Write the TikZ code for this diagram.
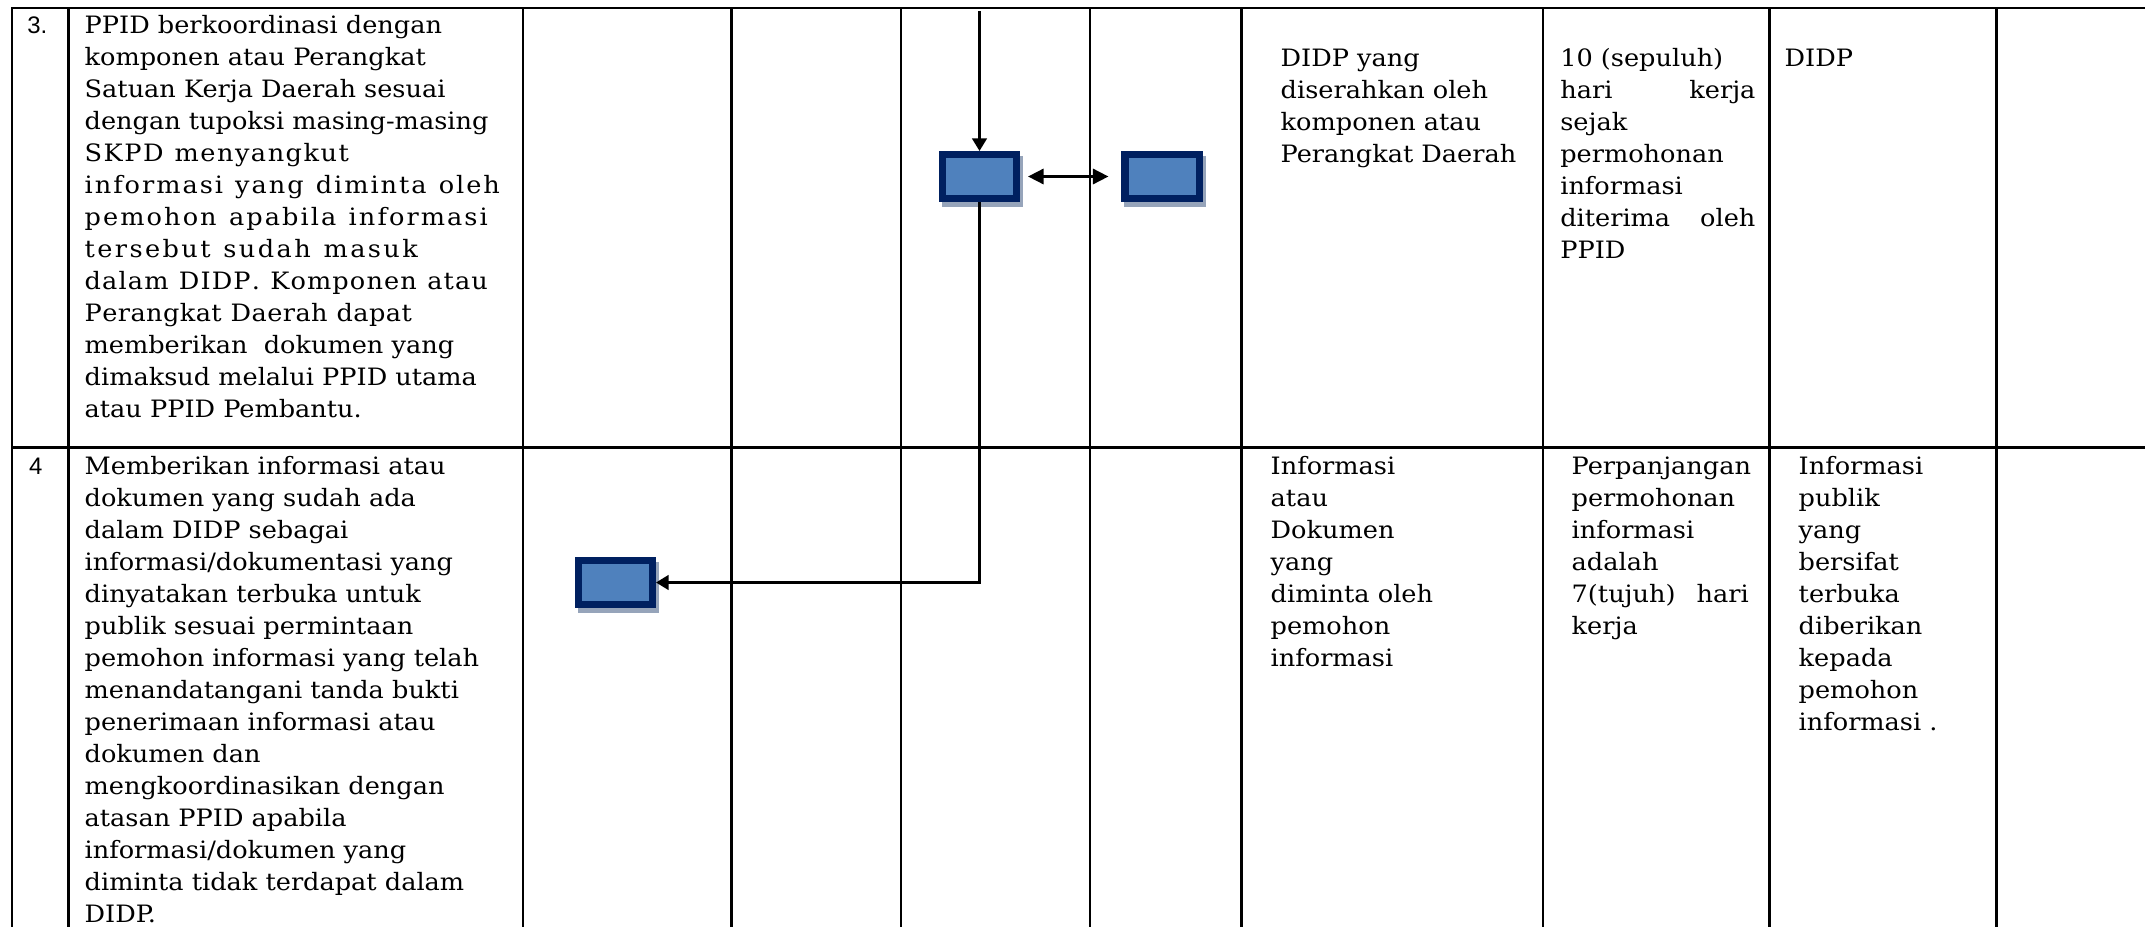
\documentclass[tikz,border=0pt]{standalone}
\usepackage{fontspec}
\setmainfont{DejaVu Serif}[FakeStretch=1.07]
\newfontfamily\numfont{Liberation Sans}
\usetikzlibrary{arrows.meta,shadows}

\definecolor{boxnavy}{RGB}{0,32,96}
\definecolor{boxblue}{RGB}{79,129,189}
\definecolor{boxshade}{RGB}{150,164,186}

\newcommand\celltext{\fontsize{6.8}{9.1}\selectfont}
\newcommand\numtext{\fontsize{6.8}{7.5}\selectfont\numfont}

% letter spaced line of a given width
\ExplSyntaxOn
\NewDocumentCommand\spreadline{mm}
  {
    \makebox[#1][s]{ \str_map_inline:nn {#2} { ##1 \hskip \c_zero_dim plus 1fil \scan_stop: } \unskip }
  }
\ExplSyntaxOff

\tikzset{
  hrule/.style={line width=0.75pt},
  vrule/.style={line width=0.65pt},
  cell/.style={anchor=north west,inner sep=0pt,align=left,font=\celltext},
  num/.style={anchor=base west,inner sep=0pt,font=\numtext},
  stepbox/.style={rectangle,draw=boxnavy,fill=boxblue,line width=2pt,
    minimum width=0.74cm,minimum height=0.44cm,inner sep=0pt,
    drop shadow={shadow xshift=0.03cm,shadow yshift=-0.05cm,opacity=1,
      fill=boxshade,draw=boxshade,line width=2pt}},
  flow/.style={line width=0.65pt,-{Triangle[length=3.6pt,width=4.2pt]}},
}

\begin{document}
\begin{tikzpicture}[x=0.01cm,y=-0.01cm]
\useasboundingbox (0,0) rectangle (2145,927);
%table
\draw[hrule] (11,8) -- (2145,8);
\draw[hrule] (11,447.5) -- (2145,447.5);
\foreach \cx in {12,68.5,523,731.5,901,1090,1241.5,1543,1769.5,1996.5}
  \draw[vrule] (\cx,8) -- (\cx,927);

%row 3
\node[num] (n3) at (26.7,33) {3.};
\node[cell] (d3) at (84,10.6) {\strut PPID berkoordinasi dengan\\
  komponen atau Perangkat\\
  Satuan Kerja Daerah sesuai\\
  dengan tupoksi masing-masing\\
  \spreadline{2.64cm}{SKPD menyangkut}\\
  \spreadline{4.15cm}{informasi yang diminta oleh}\\
  \spreadline{4.03cm}{pemohon apabila informasi}\\
  \spreadline{3.33cm}{tersebut sudah masuk}\\
  \spreadline{4.03cm}{dalam DIDP. Komponen atau}\\
  \spreadline{3.27cm}{Perangkat Daerah dapat}\\
  memberikan\ \ dokumen yang\\
  dimaksud melalui PPID utama\\
  atau PPID Pembantu.};
\node[cell] (o3) at (1280,43.6) {\strut DIDP yang\\ diserahkan oleh\\ komponen atau\\ Perangkat Daerah};
\node[cell] (w3) at (1559.6,43.6) {\strut 10 (sepuluh)\\ \makebox[1.95cm][s]{hari kerja}\\ sejak\\ permohonan\\ informasi\\
  \makebox[1.95cm][s]{diterima oleh}\\ PPID};
\node[cell] (k3) at (1784,43.6) {\strut DIDP};

%row 4
\node[num] (n4) at (28.3,474) {4};
\node[cell] (d4) at (84,451.6) {\strut Memberikan informasi atau\\
  dokumen yang sudah ada\\
  dalam DIDP sebagai\\
  informasi/dokumentasi yang\\
  dinyatakan terbuka untuk\\
  publik sesuai permintaan\\
  pemohon informasi yang telah\\
  menandatangani tanda bukti\\
  penerimaan informasi atau\\
  dokumen dan\\
  mengkoordinasikan dengan\\
  atasan PPID apabila\\
  informasi/dokumen yang\\
  diminta tidak terdapat dalam\\
  DIDP.};
\node[cell] (o4) at (1270,451.6) {\strut Informasi\\ atau\\ Dokumen\\ yang\\ diminta oleh\\ pemohon\\ informasi};
\node[cell] (w4) at (1571,451.6) {\strut Perpanjangan\\ permohonan\\ informasi\\ adalah\\ \makebox[1.77cm][s]{7(tujuh)\ \ hari}\\ kerja};
\node[cell] (k4) at (1798,451.6) {\strut Informasi\\ publik\\ yang\\ bersifat\\ terbuka\\ diberikan\\ kepada\\ pemohon\\ informasi .};

%flow
\node[stepbox] (boxA) at (979.5,176.5) {};
\node[stepbox] (boxB) at (1162,176.5) {};
\node[stepbox] (boxC) at (615.5,582.5) {};
\coordinate (fromtop) at (979.5,11);
\draw[flow] (fromtop) -- (boxA);
\draw[line width=0.75pt,{Triangle[length=4.4pt,width=4.3pt]}-{Triangle[length=4.4pt,width=4.3pt]},
  shorten <=0.08cm,shorten >=0.13cm] (boxA) -- (boxB);
\draw[flow] (boxA.south) |- (boxC.east);
\end{tikzpicture}
\end{document}
